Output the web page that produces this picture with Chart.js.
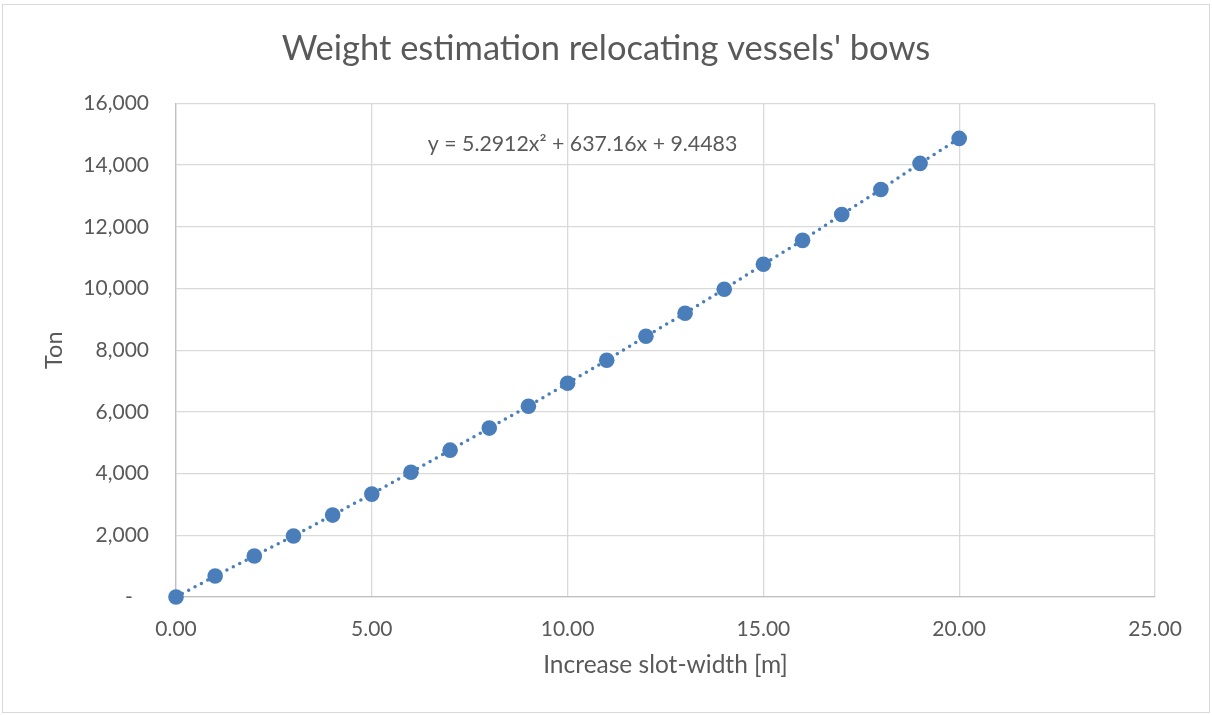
<!DOCTYPE html>
<html>
<head>
<meta charset="utf-8">
<script src="https://cdn.jsdelivr.net/npm/chart.js@4/dist/chart.umd.min.js"></script>
<style>
  html, body { margin: 0; padding: 0; background: #fff; }
  #wrap { width: 1212px; height: 715px; position: relative; }
</style>
</head>
<body>
<div id="wrap"><canvas id="c" width="1212" height="715"></canvas></div>
<script>
// Slot-width increase [m] and the resulting weight [ton]
const slotWidth = [0, 1, 2, 3, 4, 5, 6, 7, 8, 9, 10, 11, 12, 13, 14, 15, 16, 17, 18, 19, 20];
const weightTon = [0, 680, 1330, 1975, 2655, 3335, 4045, 4760, 5475, 6185, 6930,
                   7675, 8450, 9200, 9975, 10785, 11560, 12400, 13210, 14055, 14865];
const yTicks = [0, 2000, 4000, 6000, 8000, 10000, 12000, 14000, 16000];
const xTicks = [0, 5, 10, 15, 20, 25];
const trendLabel = 'y = 5.2912x\u00B2 + 637.16x + 9.4483';

const FONT = 'Lato, Calibri, Carlito, sans-serif';
const TEXT = '#595959';
const pts = slotWidth.map((x, i) => ({ x: x, y: weightTon[i] }));

// outer frame of the chart
const framePlugin = {
  id: 'frame',
  beforeDraw(chart) {
    const ctx = chart.ctx;
    ctx.save();
    ctx.fillStyle = '#fff';
    ctx.fillRect(0, 0, chart.width, chart.height);
    ctx.strokeStyle = '#d9d9d9';
    ctx.lineWidth = 1;
    ctx.strokeRect(2.5, 4.5, 1207, 708);
    ctx.restore();
  }
};

// trendline equation text
const equationPlugin = {
  id: 'equation',
  afterDatasetsDraw(chart) {
    const { ctx, scales } = chart;
    const px = scales.x.getPixelForValue(6.43);
    const py = scales.y.getPixelForValue(14680);
    ctx.save();
    ctx.font = '21.3px ' + FONT;
    ctx.fillStyle = TEXT;
    ctx.textAlign = 'left';
    ctx.textBaseline = 'middle';
    ctx.fillText(trendLabel, px, py);
    ctx.restore();
  }
};

new Chart(document.getElementById('c'), {
  type: 'scatter',
  data: {
    datasets: [
      {
        // dotted trend line
        data: pts,
        showLine: true,
        clip: false,
        borderColor: '#4a7ebb',
        borderWidth: 3.5,
        borderDash: [0, 7.2],
        borderCapStyle: 'round',
        pointRadius: 0,
        fill: false,
        order: 2
      },
      {
        data: pts,
        showLine: false,
        clip: false,
        backgroundColor: '#4a7ebb',
        borderColor: '#4a7ebb',
        pointRadius: 7.8,
        pointBorderWidth: 0,
        order: 1
      }
    ]
  },
  options: {
    responsive: false,
    animation: false,
    layout: { padding: { left: 0, right: 0, top: 0, bottom: 0 } },
    plugins: {
      legend: { display: false },
      tooltip: { enabled: false },
      title: {
        display: true,
        text: "Weight estimation relocating vessels' bows",
        color: TEXT,
        font: { family: FONT, size: 34.5, weight: 'normal', lineHeight: 1.2 },
        padding: { top: 28, bottom: 34 }
      }
    },
    scales: {
      x: {
        type: 'linear',
        min: 0,
        max: 25,
        afterBuildTicks(scale) { scale.ticks = xTicks.map(v => ({ value: v })); },
        afterFit(scale) { scale.height = 118; },
        grid: { color: '#d9d9d9', lineWidth: 1.3, drawTicks: false },
        border: { color: '#bfbfbf', width: 1.3 },
        ticks: {
          color: TEXT,
          padding: 20,
          font: { family: FONT, size: 21 },
          callback: v => v.toFixed(2)
        },
        title: {
          display: true,
          text: 'Increase slot-width [m]',
          color: TEXT,
          font: { family: FONT, size: 24.5 },
          padding: { top: 0, bottom: 35 }
        }
      },
      y: {
        type: 'linear',
        min: 0,
        max: 16000,
        afterBuildTicks(scale) { scale.ticks = yTicks.map(v => ({ value: v })); },
        afterFit(scale) { scale.width = 176; },
        grid: { color: '#d9d9d9', lineWidth: 1.3, drawTicks: false },
        border: { color: '#bfbfbf', width: 1.3 },
        ticks: {
          color: TEXT,
          padding: 27,
          font: { family: FONT, size: 21 },
          callback: v => v === 0 ? '-   ' : v.toLocaleString('en-US')
        },
        title: {
          display: true,
          text: 'Ton',
          color: TEXT,
          font: { family: FONT, size: 23.5 },
          padding: { top: 40, bottom: 0 }
        }
      },
      // empty margin on the right of the plot area
      yRight: {
        type: 'linear',
        position: 'right',
        display: true,
        min: 0,
        max: 1,
        afterFit(scale) { scale.width = 57; },
        grid: { display: false, drawTicks: false },
        border: { display: false },
        ticks: { display: false }
      }
    }
  },
  plugins: [framePlugin, equationPlugin]
});
</script>
</body>
</html>
